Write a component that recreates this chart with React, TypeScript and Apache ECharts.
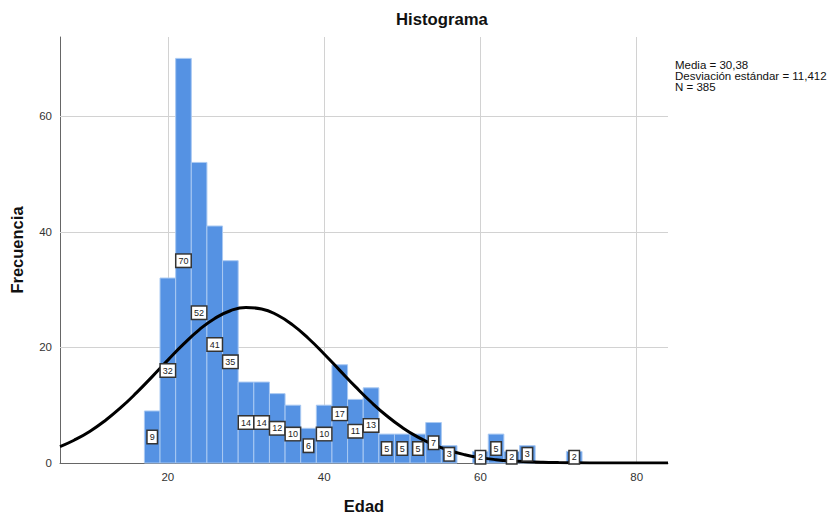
import React, { useEffect, useRef } from 'react';
import * as echarts from 'echarts';

const binStarts = [17, 19, 21, 23, 25, 27, 29, 31, 33, 35, 37, 39, 41, 43, 45, 47, 49, 51, 53, 55, 57, 59, 61, 63, 65, 67, 69, 71];
const binWidth = 2;
const counts = [9, 32, 70, 52, 41, 35, 14, 14, 12, 10, 6, 10, 17, 11, 13, 5, 5, 5, 7, 3, 0, 2, 5, 2, 3, 0, 0, 2];

const curveX = [6.2, 8, 10, 12, 14, 16, 18, 20, 22, 24, 26, 28, 30, 32, 34, 36, 38, 40, 42, 44, 46, 48, 50, 52, 54, 56, 58, 60, 62, 64, 66, 68, 70, 72, 76, 80, 84];
const curveY = [2.85, 3.94, 5.46, 7.36, 9.61, 12.17, 14.95, 17.8, 20.56, 23.03, 25.01, 26.34, 26.9, 26.65, 25.6, 23.85, 21.54, 18.87, 16.03, 13.21, 10.55, 8.17, 6.14, 4.47, 3.16, 2.17, 1.44, 0.93, 0.58, 0.35, 0.21, 0.12, 0.07, 0.04, 0.01, 0, 0];

const xGridValues = [20, 40, 60, 80];
const yGridValues = [20, 40, 60];

const titleText = 'Histograma';
const xName = 'Edad';
const yName = 'Frecuencia';
const statsLines = ['Media = 30,38', 'Desviación estándar = 11,412', 'N = 385'];

const FONT = 'Liberation Sans, Arial, sans-serif';

export default function App() {
  const ref = useRef<HTMLDivElement>(null);
  useEffect(() => {
    document.body.style.margin = '0';
    const chart = echarts.init(ref.current as HTMLDivElement, null, { renderer: 'svg', width: 828, height: 513 });
    const binData = binStarts.map((s, i) => [s, s + binWidth, counts[i]]);
    const curveData = curveX.map((x, i) => [x, curveY[i]]);
    chart.setOption({
      animation: false,
      backgroundColor: '#fff',
      title: {
        text: titleText,
        left: 396,
        top: 11,
        padding: 0,
        textStyle: { fontFamily: FONT, fontSize: 16.7, fontWeight: 'bold', color: '#111' },
      },
      grid: { left: 60, top: 37, right: 160, bottom: 50, outerBoundsMode: 'none', containLabel: false },
      xAxis: {
        type: 'value',
        min: 6.2,
        max: 84,
        minInterval: 20,
        maxInterval: 20,
        name: xName,
        nameLocation: 'middle',
        nameGap: 35,
        nameTextStyle: { fontFamily: FONT, fontSize: 16.5, lineHeight: 15, fontWeight: 'bold', color: '#111' },
        axisLine: { show: true, lineStyle: { color: '#666', width: 1 } },
        axisTick: { show: false },
        splitLine: { show: false },
        axisLabel: {
          fontFamily: FONT,
          fontSize: 11.5,
          color: '#333',
          margin: 8,
          formatter: (v: number) => (Math.abs(v % 20) < 1e-9 && v > 0 ? String(v) : ''),
        },
      },
      yAxis: {
        type: 'value',
        min: 0,
        max: 73.7,
        interval: 20,
        name: yName,
        nameLocation: 'middle',
        nameGap: 35,
        nameTextStyle: { fontFamily: FONT, fontSize: 16.5, fontWeight: 'bold', color: '#111' },
        axisLine: { show: true, lineStyle: { color: '#666', width: 1 } },
        axisTick: { show: false },
        splitLine: { show: false },
        axisLabel: {
          fontFamily: FONT,
          fontSize: 11.5,
          color: '#333',
          margin: 8,
          formatter: (v: number) => (Math.abs(v % 20) < 1e-9 ? String(v) : ''),
        },
      },
      graphic: [
        {
          type: 'text',
          left: 675,
          top: 59,
          style: {
            text: statsLines.join('\n'),
            fontFamily: FONT,
            fontSize: 11.5,
            lineHeight: 11,
            fill: '#111',
          },
        },
      ],
      series: [
        {
          type: 'custom',
          z: 2,
          silent: true,
          data: binData,
          encode: { x: [0, 1], y: 2 },
          renderItem: (params: any, api: any) => {
            const c = api.value(2);
            if (!c) return null;
            const p0 = api.coord([api.value(0), c]);
            const p1 = api.coord([api.value(1), 0]);
            return {
              type: 'rect',
              shape: { x: p0[0], y: p0[1], width: p1[0] - p0[0], height: p1[1] - p0[1] },
              style: { fill: '#5592e3', stroke: '#a9c9f2', lineWidth: 1 },
            };
          },
          markLine: {
            silent: true,
            symbol: 'none',
            z: 1,
            label: { show: false },
            lineStyle: { color: '#d2d2d2', width: 1, type: 'solid' },
            data: [
              ...xGridValues.map((v) => ({ xAxis: v })),
              ...yGridValues.map((v) => ({ yAxis: v })),
            ],
          },
        },
        {
          type: 'line',
          z: 3,
          silent: true,
          data: curveData,
          smooth: true,
          symbol: 'none',
          lineStyle: { color: '#000', width: 3 },
        },
        {
          type: 'custom',
          z: 4,
          silent: true,
          data: binData,
          encode: { x: [0, 1], y: 2 },
          renderItem: (params: any, api: any) => {
            const c = api.value(2);
            if (!c) return null;
            const p = api.coord([(api.value(0) + api.value(1)) / 2, c / 2]);
            return {
              type: 'text',
              x: p[0],
              y: p[1],
              style: {
                text: String(c),
                align: 'center',
                verticalAlign: 'middle',
                fontFamily: FONT,
                fontSize: 9,
                fill: '#222',
                backgroundColor: '#fff',
                borderColor: '#333',
                borderWidth: 1.5,
                padding: [2, 2, 1, 2],
              },
            };
          },
        },
      ],
    });
    return () => chart.dispose();
  }, []);
  return <div ref={ref} style={{ position: 'fixed', left: 0, top: 0, width: 828, height: 513 }} />;
}
